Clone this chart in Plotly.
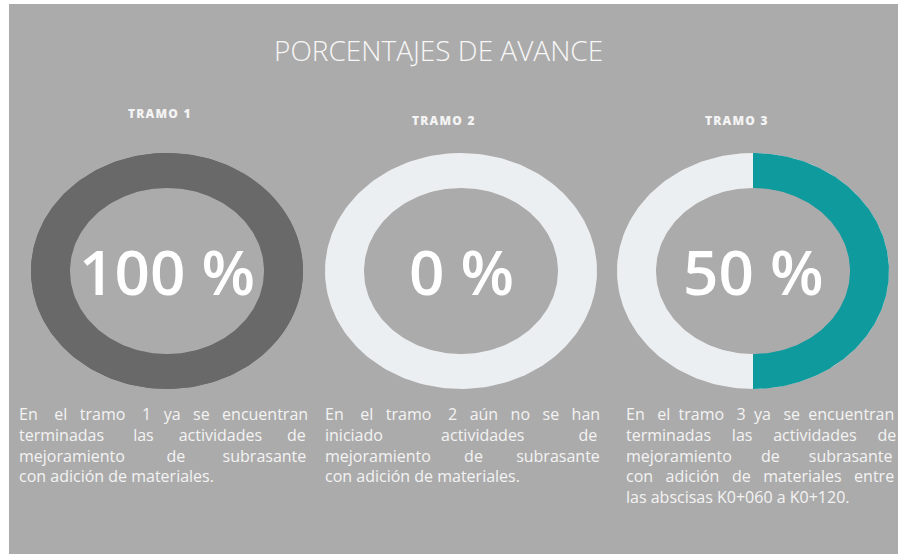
import numpy as np
import plotly.graph_objects as go

# datos
tramos = ["TRAMO 1", "TRAMO 2", "TRAMO 3"]
avance = [100, 0, 50]
color_avance = ["#696969", "#0f9a9d", "#0f9a9d"]
color_pista = ["#696969", "#eceff1", "#eceff1"]
etiquetas = ["100 %", "0 %", "50 %"]
descripciones = [
    ["En el tramo 1 ya se encuentran",
     "terminadas las actividades de",
     "mejoramiento de subrasante",
     "con adición de materiales."],
    ["En el tramo 2 aún no se han",
     "iniciado actividades de",
     "mejoramiento de subrasante",
     "con adición de materiales."],
    ["En el tramo 3 ya se encuentran",
     "terminadas las actividades de",
     "mejoramiento de subrasante",
     "con adición de materiales entre",
     "las abscisas K0+060 a K0+120."],
]

BG = "#acabab"
centros_x = [167, 461, 753]
cy = 271
rx, ry = 136, 118
rx_in, ry_in = 97, 83
header_x = [159, 443, 736]
header_y = [113, 120, 120]
col_izq = [17, 323, 624]
col_der = [305, 598, 893]
parrafo_y = 401
fsize = 16
TXT = "#f3f3f3"

# anchos aproximados de Open Sans (fraccion de em)
ANCHOS = {
    "a": .556, "b": .613, "c": .48, "d": .613, "e": .561, "f": .34, "g": .54,
    "h": .614, "i": .258, "j": .258, "k": .53, "l": .258, "m": .937, "n": .614,
    "o": .603, "p": .613, "q": .613, "r": .408, "s": .477, "t": .353, "u": .614,
    "v": .5, "w": .78, "x": .52, "y": .5, "z": .47, "á": .556, "é": .561,
    "í": .258, "ó": .603, "ú": .614, ".": .267, ",": .267, "+": .572,
    "E": .556, "K": .6,
}
ESPACIO = 0.26


def elipse(cx, a, b, t0=0.0, t1=2 * np.pi, n=200):
    t = np.linspace(t0, t1, n)
    return cx + a * np.sin(t), cy - b * np.cos(t)


def ancho(palabra):
    return sum(ANCHOS.get(ch, .572) for ch in palabra)


def justificar(linea, ancho_px):
    palabras = linea.split(" ")
    libre = ancho_px / fsize - sum(ancho(p) for p in palabras)
    n_huecos = len(palabras) - 1
    total = max(n_huecos, round(libre / ESPACIO))
    base, resto = divmod(total, n_huecos)
    # los espacios sobrantes se reparten alternados
    orden = list(range(0, n_huecos, 2)) + list(range(1, n_huecos, 2))
    extra = set(orden[:resto])
    out = palabras[0]
    for k in range(1, len(palabras)):
        n = base + (1 if (k - 1) in extra else 0)
        out += "\u00a0" * n + palabras[k]
    return out


fig = go.Figure()

for i, pct in enumerate(avance):
    cx = centros_x[i]
    # pista completa
    x, y = elipse(cx, rx, ry)
    fig.add_trace(go.Scatter(x=x, y=y, fill="toself", fillcolor=color_pista[i],
                             line=dict(width=0), mode="lines", hoverinfo="skip"))
    # sector de avance, sentido horario desde arriba
    if pct > 0:
        x, y = elipse(cx, rx, ry, 0, 2 * np.pi * pct / 100)
        x = np.concatenate([[cx], x, [cx]])
        y = np.concatenate([[cy], y, [cy]])
        fig.add_trace(go.Scatter(x=x, y=y, fill="toself", fillcolor=color_avance[i],
                                 line=dict(width=0), mode="lines", hoverinfo="skip"))
    # hueco
    x, y = elipse(cx, rx_in, ry_in)
    fig.add_trace(go.Scatter(x=x, y=y, fill="toself", fillcolor=BG,
                             line=dict(width=0), mode="lines", hoverinfo="skip"))

anns = []
anns.append(dict(x=438, y=50, text="PORCENTAJES DE AVANCE", showarrow=False,
                 font=dict(family="Open Sans", size=28, color="#f7f7f7", weight=300)))

for i in range(3):
    anns.append(dict(x=header_x[i], y=header_y[i], text="\u200a".join(tramos[i]),
                     showarrow=False,
                     font=dict(family="Open Sans", size=12, color="#f4f4f4", weight=800)))
    anns.append(dict(x=centros_x[i], y=cy, text=etiquetas[i], showarrow=False,
                     font=dict(family="Open Sans", size=62, color="#ffffff", weight=600)))
    lineas = descripciones[i]
    # la ultima linea de cada parrafo no se justifica
    texto = [justificar(l, col_der[i] - col_izq[i]) for l in lineas[:-1]] + [lineas[-1]]
    anns.append(dict(x=col_izq[i], y=parrafo_y, text="<br>".join(texto),
                     showarrow=False, xanchor="left", yanchor="top", align="left",
                     font=dict(family="Open Sans", size=fsize, color=TXT)))

fig.update_layout(
    width=898, height=554,
    margin=dict(l=9, r=0, t=4, b=0),
    paper_bgcolor="white", plot_bgcolor=BG,
    showlegend=False,
    annotations=anns,
    xaxis=dict(range=[9, 898], visible=False, fixedrange=True),
    yaxis=dict(range=[554, 4], visible=False, fixedrange=True),
)

fig.write_html("out.html", config={"displayModeBar": False},
               post_script="document.body.style.margin='0';")
